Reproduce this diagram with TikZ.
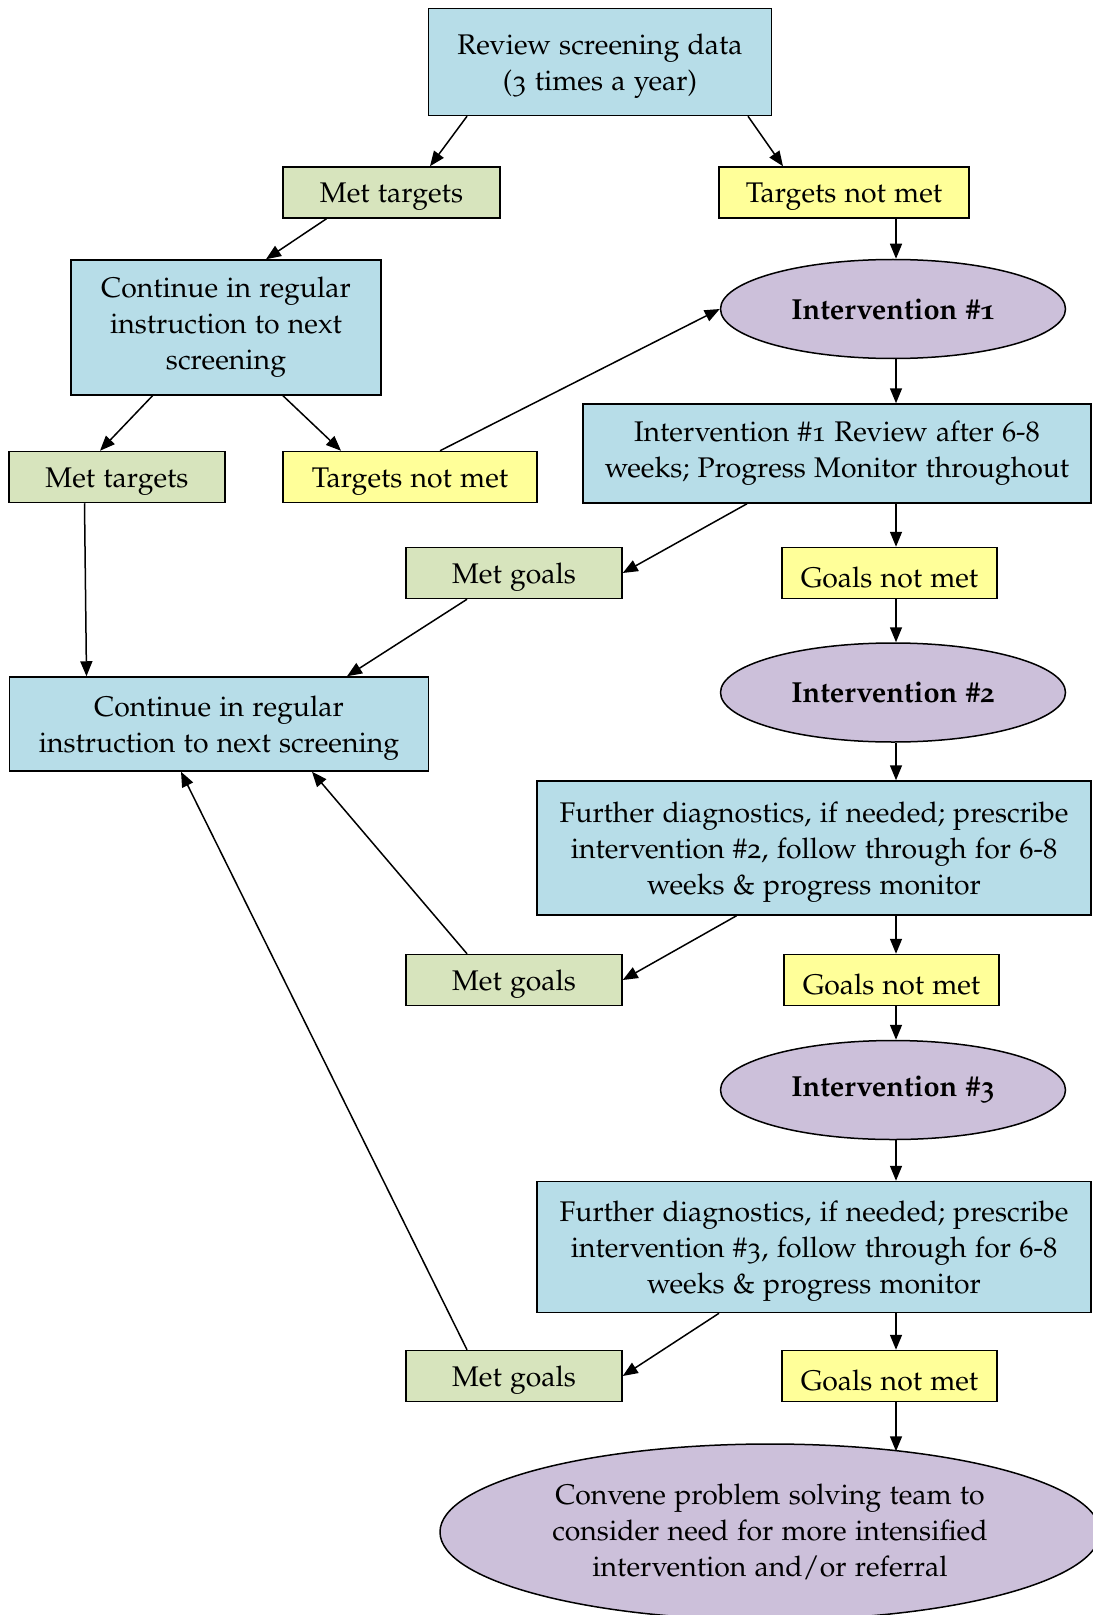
\documentclass[tikz,border=0pt]{standalone}
\usepackage[T1]{fontenc}
\renewcommand{\rmdefault}{pplj}
\usepackage{tikz}
\usetikzlibrary{
    shapes.geometric,
    arrows.meta
}
\definecolor{azul}{HTML}{B7DDE8}
\definecolor{verde}{HTML}{D7E4BD}
\definecolor{amarillo}{HTML}{FFFF99}
\definecolor{lila}{HTML}{CCC0DA}
\tikzset{
    >={Triangle[length=7.5pt,width=6pt]},
    caja/.style={
        draw,
        line width=0.75pt,
        align=center,
        inner sep=2pt,
        font=\fontsize{14.2}{18}\selectfont
    },
    paso/.style={caja, fill=azul},
    baja/.style={text depth=0pt},
    linea/.style={caja, minimum height=25.5pt, execute at begin node={\rule{0pt}{14.5pt}}},
    si/.style={linea, fill=verde, minimum width=108pt},
    no/.style={linea, fill=amarillo},
    interv/.style={
        caja,
        ellipse,
        fill=lila,
        minimum width=172.5pt,
        minimum height=49.5pt,
        font=\fontsize{14.5}{18}\selectfont\bfseries
    },
    col/.style={transform canvas={xshift=1.5pt}}
}

\begin{document}
\begin{tikzpicture}[
    x=0.5pt,
    y=-0.5pt,
    line width=0.75pt
]

    \useasboundingbox (0,0) rectangle (1092,1615);

    % Cribado
    \node[paso, baja, minimum width=171.5pt, minimum height=53.5pt] (rev) at (600,62) {Review screening data\\(3 times a year)};
    \node[si, minimum width=108.5pt]                          (mt1)   at (391.5,192.5) {Met targets};
    \node[no, minimum width=125pt]                            (tn1)   at (844,192.5)   {Targets not met};
    \node[paso, minimum width=155pt, minimum height=67.5pt]   (cont1) at (226,327.5)   {Continue in regular\\instruction to next\\screening};
    \node[si]                                                 (mt2)   at (117,477)     {Met targets};
    \node[no, minimum width=127pt]                            (tn2)   at (410,477)     {Targets not met};
    \node[paso, baja, minimum width=209.5pt, minimum height=47pt] (cont2) at (219,724) {Continue in regular\\instruction to next screening};

    % Intervenciones
    \node[interv] (int1) at (893,309)  {Intervention \#1};
    \node[paso, minimum width=254pt, minimum height=49.5pt]   (rev1)  at (837,453.5)   {Intervention \#1 Review after 6-8\\weeks; Progress Monitor throughout};
    \node[si]                                                 (mg1)   at (514,573)     {Met goals};
    \node[no, minimum width=107.5pt]                          (gn1)   at (889.5,573)   {Goals not met};

    \node[interv] (int2) at (893,692.5) {Intervention \#2};
    \node[paso, baja, minimum width=277pt, minimum height=67pt] (diag2) at (814,848)   {Further diagnostics, if needed; prescribe\\intervention \#2, follow through for 6-8\\weeks \& progress monitor};
    \node[si]                                                 (mg2)   at (514,980)     {Met goals};
    \node[no, minimum width=107.5pt]                          (gn2)   at (891.5,980)   {Goals not met};

    \node[interv] (int3) at (893,1090) {Intervention \#3};
    \node[paso, baja, minimum width=277pt, minimum height=65.5pt] (diag3) at (814,1247) {Further diagnostics, if needed; prescribe\\intervention \#3, follow through for 6-8\\weeks \& progress monitor};
    \node[si]                                                 (mg3)   at (514,1376)    {Met goals};
    \node[no, minimum width=107.5pt]                          (gn3)   at (889.5,1376)  {Goals not met};

    \node[interv, minimum width=330pt, minimum height=88pt,
          font=\fontsize{14.2}{18}\selectfont] (conv) at (770,1532)
        {Convene problem solving team to\\consider need for more intensified\\intervention and/or referral};

    % Flechas
    \draw[->] ([xshift=-66.5pt]rev.south) -- ([xshift=19.25pt]mt1.north);
    \draw[->] ([xshift=74pt]rev.south)    -- ([xshift=-30.5pt]tn1.north);
    \draw[->] ([xshift=-32.5pt]mt1.south) -- ([xshift=20pt]cont1.north);
    \draw[->] ([xshift=-36.75pt]cont1.south) -- ([xshift=-8.5pt]mt2.north);
    \draw[->] ([xshift=28.5pt]cont1.south)   -- ([xshift=-34.5pt]tn2.north);
    \draw[->] ([xshift=15pt]tn2.north) -- (int1.west);
    \draw[->] ([xshift=-16.25pt]mt2.south) -- ([xshift=-66.25pt]cont2.north);

    % columna derecha
    \draw[->, col] (tn1.south -| int1.north) -- (int1.north);
    \draw[->, col] (int1.south) -- (rev1.north -| int1.south);
    \draw[->, col] (rev1.south -| int1.south) -- (gn1.north -| int1.south);
    \draw[->, col] (gn1.south -| int2.north) -- (int2.north);
    \draw[->, col] (int2.south) -- (diag2.north -| int2.south);
    \draw[->, col] (diag2.south -| int2.south) -- (gn2.north -| int2.south);
    \draw[->, col] (gn2.south -| int3.north) -- (int3.north);
    \draw[->, col] (int3.south) -- (diag3.north -| int3.south);
    \draw[->, col] (diag3.south -| int3.south) -- (gn3.north -| int3.south);
    \draw[->, col] (gn3.south -| int3.south) -- ([yshift=-4pt]conv.north -| int3.south);

    % metas cumplidas
    \draw[->] ([xshift=-45pt]rev1.south)    -- (mg1.east);
    \draw[->] ([xshift=-23.5pt]mg1.south)   -- ([xshift=64pt]cont2.north);
    \draw[->] ([xshift=-38.75pt]diag2.south) -- (mg2.east);
    \draw[->] ([xshift=-23.5pt]mg2.north)   -- ([xshift=46.5pt]cont2.south);
    \draw[->] ([xshift=-47.5pt]diag3.south) -- (mg3.east);
    \draw[->] ([xshift=-23.5pt]mg3.north)   -- ([xshift=-19pt]cont2.south);

\end{tikzpicture}
\end{document}
